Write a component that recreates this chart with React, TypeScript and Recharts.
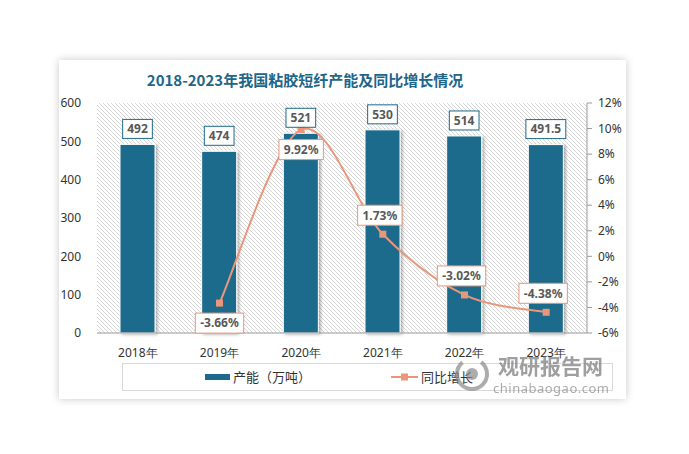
import React from 'react';
import {
  ComposedChart,
  Bar,
  Line,
  XAxis,
  YAxis,
  CartesianGrid,
  LabelList,
} from 'recharts';

const YEARS = ['2018年', '2019年', '2020年', '2021年', '2022年', '2023年'];
const CAPACITY = [492, 474, 521, 530, 514, 491.5];
const GROWTH: (number | null)[] = [null, -3.66, 9.92, 1.73, -3.02, -4.38];
const LEFT_TICKS = [0, 100, 200, 300, 400, 500, 600];
const RIGHT_TICKS = [-6, -4, -2, 0, 2, 4, 6, 8, 10, 12];

const BAR_COLOR = '#1d6a8c';
const LINE_COLOR = '#e9977a';
const LABEL_TEXT = '#595959';
const TICK_STYLE = { fill: '#333', fontSize: 12, fontFamily: 'Noto Sans' };

const data = YEARS.map((year, i) => ({
  year,
  capacity: CAPACITY[i],
  growth: GROWTH[i],
}));

// rough width of bold 12px Noto Sans text, used to size the label boxes
function textWidth(s: string) {
  let w = 0;
  for (const c of s) {
    if (c === '.') w += 3.3;
    else if (c === '-') w += 4;
    else if (c === '%') w += 10.4;
    else w += 6.9;
  }
  return w;
}

// Excel-like smoothing: cubic bezier with control points at 1/6 of neighbour span
function excelSmooth(context: any) {
  let pts: number[][] = [];
  return {
    areaStart() {},
    areaEnd() {},
    lineStart() {
      pts = [];
    },
    point(x: number, y: number) {
      pts.push([+x, +y]);
    },
    lineEnd() {
      const n = pts.length;
      if (!n) return;
      context.moveTo(pts[0][0], pts[0][1]);
      for (let i = 0; i < n - 1; i++) {
        const p0 = pts[i - 1] || pts[i];
        const p1 = pts[i];
        const p2 = pts[i + 1];
        const p3 = pts[i + 2] || p2;
        context.bezierCurveTo(
          p1[0] + (p2[0] - p0[0]) / 6,
          p1[1] + (p2[1] - p0[1]) / 6,
          p2[0] - (p3[0] - p1[0]) / 6,
          p2[1] - (p3[1] - p1[1]) / 6,
          p2[0],
          p2[1]
        );
      }
    },
  };
}

function BarShape(props: any) {
  const { x, y, width, height } = props;
  return (
    <rect
      x={x}
      y={y}
      width={width}
      height={height}
      fill={BAR_COLOR}
      stroke="#fff"
      strokeWidth={1}
      filter="url(#barShadow)"
    />
  );
}

function BarValueLabel(props: any) {
  const { x, y, width, value } = props;
  if (value == null) return null;
  const text = String(value);
  const cx = x + width / 2;
  const w = textWidth(text) + 9;
  const h = 19;
  const top = y - 6 - h;
  return (
    <g>
      <rect x={cx - w / 2} y={top} width={w} height={h} fill="#fff" stroke={BAR_COLOR} strokeWidth={1} />
      <text
        x={cx}
        y={top + h / 2}
        dy="0.36em"
        textAnchor="middle"
        fontFamily="Noto Sans"
        fontWeight={700}
        fontSize={12}
        fill={LABEL_TEXT}
      >
        {text}
      </text>
    </g>
  );
}

function GrowthLabel(props: any) {
  const { x, y, value, index } = props;
  if (value == null || x == null || y == null) return null;
  const text = Number(value).toFixed(2) + '%';
  const w = textWidth(text) + 10;
  const h = 20;
  const below = index < 3;
  const cy = below ? y + 20 : y - 19;
  const cx = below ? x : x - 3;
  return (
    <g>
      <rect x={cx - w / 2} y={cy - h / 2} width={w} height={h} fill="#fff" stroke={LINE_COLOR} strokeWidth={1} />
      <text
        x={cx}
        y={cy}
        dy="0.36em"
        textAnchor="middle"
        fontFamily="Noto Sans"
        fontWeight={700}
        fontSize={12}
        fill={LABEL_TEXT}
      >
        {text}
      </text>
    </g>
  );
}

function SquareDot(props: any) {
  const { cx, cy } = props;
  if (cx == null || cy == null) return null;
  return <rect x={cx - 3.5} y={cy - 3.5} width={7} height={7} fill={LINE_COLOR} />;
}

export default function App() {
  return (
    <div style={{ position: 'absolute', left: 0, top: 0, width: 689, height: 454, background: '#fff', overflow: 'hidden' }}>
      <svg width={0} height={0} style={{ position: 'absolute' }}>
        <defs>
          <pattern id="hatch" width="4" height="4" patternUnits="userSpaceOnUse">
            <rect width="4" height="4" fill="#fff" />
            <path d="M-1,-1 L5,5 M3,-1 L5,1 M-1,3 L1,5" stroke="#d6d6d6" strokeWidth={1} />
          </pattern>
          <filter id="barShadow" x="-20%" y="-10%" width="150%" height="120%">
            <feDropShadow dx="2" dy="1" stdDeviation="1.5" floodColor="#000" floodOpacity="0.3" />
          </filter>
        </defs>
      </svg>

      {/* card */}
      <div
        style={{
          position: 'absolute',
          left: 59,
          top: 60,
          width: 567,
          height: 339,
          background: '#fff',
          boxShadow: '0 0 8px rgba(0,0,0,0.22)',
        }}
      />

      <div
        style={{
          position: 'absolute',
          left: 0,
          top: 70,
          width: 610,
          textAlign: 'center',
          fontFamily: 'Noto Sans CJK SC',
          fontWeight: 700,
          fontSize: 15,
          lineHeight: '20px',
          color: '#216688',
        }}
      >
        2018-2023年我国粘胶短纤产能及同比增长情况
      </div>

      <div style={{ position: 'absolute', left: 0, top: 0 }}>
        <ComposedChart width={689} height={454} data={data} margin={{ top: 103, right: 0, bottom: 91, left: 0 }}>
          <CartesianGrid horizontal={false} vertical={false} fill="url(#hatch)" />
          <XAxis
            dataKey="year"
            height={30}
            tickLine={false}
            axisLine={{ stroke: '#999' }}
            tick={TICK_STYLE}
            tickMargin={9}
            interval={0}
          />
          <YAxis
            yAxisId="left"
            width={97}
            domain={[0, 600]}
            ticks={LEFT_TICKS}
            axisLine={false}
            tickLine={false}
            tickSize={8}
            tickMargin={8}
            tick={TICK_STYLE}
          />
          <YAxis
            yAxisId="right"
            orientation="right"
            width={102}
            domain={[-6, 12]}
            ticks={RIGHT_TICKS}
            axisLine={{ stroke: '#999' }}
            tickLine={{ stroke: '#999' }}
            tickSize={5}
            tickMargin={6}
            tick={TICK_STYLE}
            tickFormatter={(v: number) => `${v}%`}
          />
          <Bar
            yAxisId="left"
            dataKey="capacity"
            barSize={35}
            shape={<BarShape />}
            isAnimationActive={false}
          >
            <LabelList dataKey="capacity" content={<BarValueLabel />} />
          </Bar>
          <Line
            yAxisId="right"
            dataKey="growth"
            type={excelSmooth as any}
            stroke={LINE_COLOR}
            strokeWidth={2}
            dot={<SquareDot />}
            activeDot={false}
            isAnimationActive={false}
          >
            <LabelList dataKey="growth" content={<GrowthLabel />} />
          </Line>
        </ComposedChart>
      </div>

      {/* legend */}
      <div
        style={{
          position: 'absolute',
          left: 122,
          top: 363,
          width: 491,
          height: 28,
          border: '1px solid #d9d9d9',
          boxSizing: 'border-box',
          fontFamily: 'Noto Sans CJK SC',
          fontSize: 13,
          color: '#333',
        }}
      >
        <div style={{ position: 'absolute', left: 82, top: 10, width: 25, height: 6, background: BAR_COLOR }} />
        <div style={{ position: 'absolute', left: 110, top: 0, lineHeight: '26px' }}>产能（万吨）</div>
        <svg style={{ position: 'absolute', left: 268, top: 0 }} width={28} height={26}>
          <line x1={0} y1={13} x2={27} y2={13} stroke={LINE_COLOR} strokeWidth={2} />
          <rect x={10} y={9.5} width={7} height={7} fill={LINE_COLOR} />
        </svg>
        <div style={{ position: 'absolute', left: 298, top: 0, lineHeight: '26px' }}>同比增长</div>
      </div>

      {/* watermark */}
      <div style={{ position: 'absolute', left: 452, top: 352, opacity: 0.7, pointerEvents: 'none' }}>
        <svg style={{ position: 'absolute', left: 0, top: 2 }} width={40} height={40}>
          <circle cx={20} cy={20} r={15} fill="none" stroke="#8a8a8a" strokeWidth={4} strokeDasharray="60 20" />
          <circle cx={20} cy={20} r={6} fill="#8a8a8a" />
        </svg>
        <div
          style={{
            position: 'absolute',
            left: 46,
            top: 0,
            fontFamily: 'Noto Sans CJK SC',
            fontWeight: 700,
            fontSize: 21,
            lineHeight: '26px',
            color: '#777',
            whiteSpace: 'nowrap',
          }}
        >
          观研报告网
        </div>
        <div
          style={{
            position: 'absolute',
            left: 41,
            top: 28,
            fontFamily: 'Noto Sans',
            fontSize: 13,
            lineHeight: '16px',
            color: '#888',
            whiteSpace: 'nowrap',
            letterSpacing: 0.5,
          }}
        >
          chinabaogao.com
        </div>
      </div>
    </div>
  );
}
